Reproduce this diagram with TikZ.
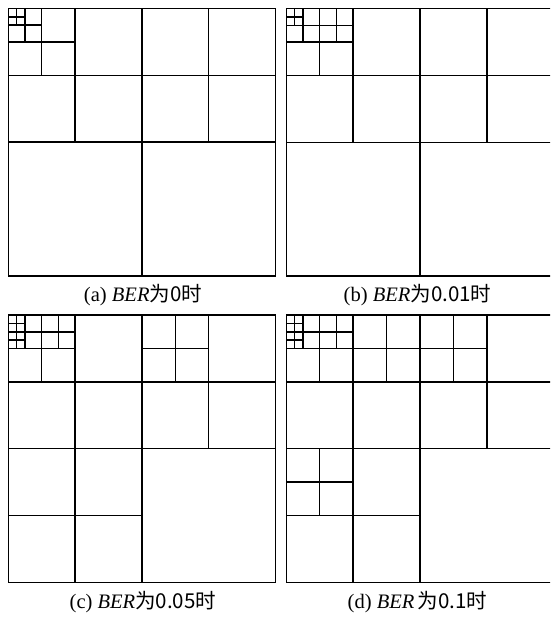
\documentclass[tikz,border=0pt]{standalone}
\usepackage{fontspec}
\setmainfont{Liberation Serif}
\newfontfamily\cjk{Noto Sans CJK SC}
\usetikzlibrary{positioning}

\tikzset{
  cell/.style={line width=1.25pt, line cap=rect},
  caption/.style={font=\fontsize{17.5}{20}\selectfont, inner sep=0pt}
}

\begin{document}
\begin{tikzpicture}[y=-1cm]
  \useasboundingbox (0,0) rectangle (16.462,18.527);
  \clip (0,0) rectangle (16.462,18.527);
  % Panels: corner x/y, then split cells x/y/size
  \foreach \px/\py/\splits in {
      0.248/0.254/{0/0/8, 0/0/4, 4/0/4, 0/0/2, 0/0/1, 0/0/0.5},
      8.569/0.262/{0/0/8, 0/0/4, 4/0/4, 0/0/2, 0/0/1, 1/0/1, 0/0/0.5},
      0.248/9.430/{0/0/8, 0/0/4, 4/0/4, 0/4/4, 0/0/2, 4/0/2, 0/0/1, 1/0/1, 0/0/0.5, 0/0.5/0.5},
      8.569/9.430/{0/0/8, 0/0/4, 4/0/4, 0/4/4, 0/0/2, 2/0/2, 4/0/2, 0/4/2, 0/0/1, 1/0/1, 0/0/0.5, 0/0.5/0.5}} {
    \draw[cell] (\px, \py) rectangle ++(8, 8);
    \foreach \x/\y/\s in \splits {
      \draw[cell] (\px+\x+\s/2, \py+\y) -- ++(0, \s);
      \draw[cell] (\px+\x, \py+\y+\s/2) -- ++(\s, 0);
    }
  }
  % Captions
  \node[caption] (capa) at (4.28, 8.83) {(a) \textit{BER}{\cjk 为0时}};
  \node[caption] (capb) at (12.50, 8.83) {(b) \textit{BER}{\cjk 为0.01时}};
  \node[caption] (capc) at (4.28, 18.02) {(c) \textit{BER}{\cjk 为0.05时}};
  \node[caption] (capd) at (12.50, 18.02) {(d) \textit{BER}\,{\cjk 为0.1时}};
\end{tikzpicture}
\end{document}
